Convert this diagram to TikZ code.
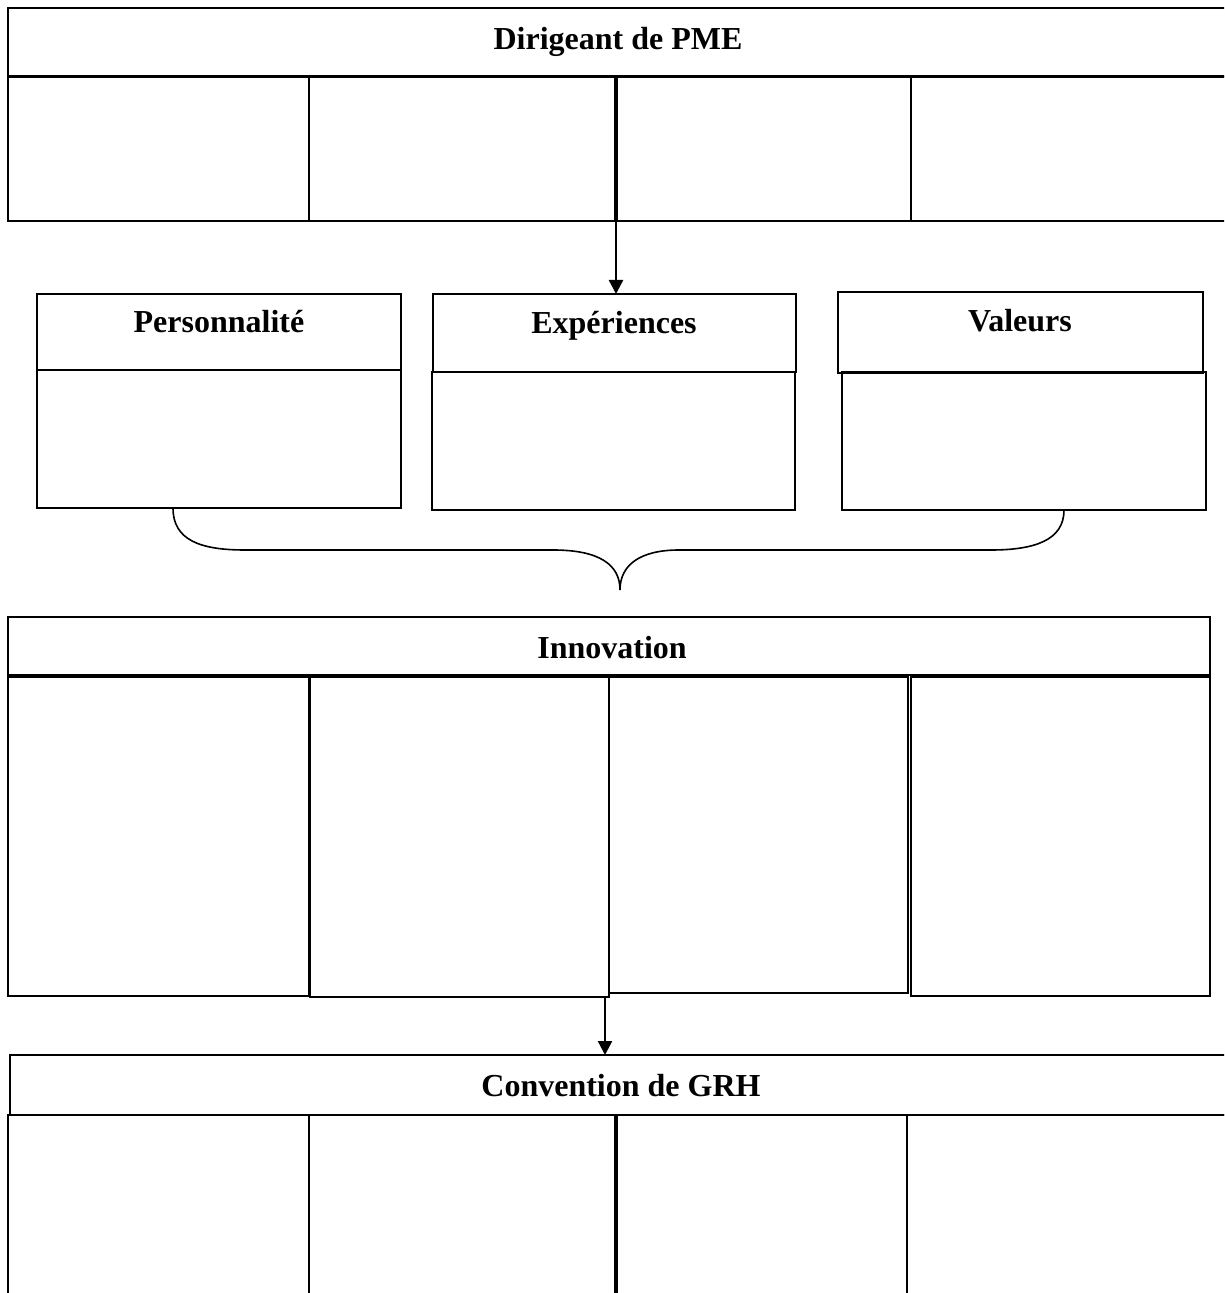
\documentclass[tikz,border=0pt]{standalone}
\usepackage{fontspec}
\setmainfont{Liberation Serif}
\usetikzlibrary{fit,arrows.meta}
\tikzset{
  box/.style={draw, line width=0.9pt, inner sep=0pt, outer sep=0pt},
  titlebox/.style={box, line width=1.2pt},
  lbl/.style={font=\bfseries\fontsize{16}{19}\selectfont, anchor=base, inner sep=0pt},
  arr/.style={line width=1.2pt, -{Triangle[length=7pt,width=7pt]}},
  bracestyle/.style={line width=0.8pt},
}
\begin{document}
\begin{tikzpicture}[x=0.5pt,y=-0.5pt]
\clip (0,0) rectangle (1224,1293);
% ---- Dirigeant de PME
\node[titlebox, fit={(8,8) (1234,76)}] (dir) {};
\node[lbl] (dirT) at (618,50) {Dirigeant de PME};
\node[box, fit={(8,77) (309,221)}] (d1) {};
\node[box, fit={(309,77) (615,221)}] (d2) {};
\node[box, fit={(617,77) (911,221)}] (d3) {};
\node[box, fit={(911,77) (1234,221)}] (d4) {};
% ---- three boxes
\node[titlebox, fit={(37,294) (401,370)}] (persH) {};
\node[box, fit={(37,370) (401,508)}] (persB) {};
\node[lbl] (persT) at (219,333) {Personnalité};
\node[titlebox, fit={(433,294) (796,372)}] (expH) {};
\node[box, fit={(432,372) (795,510)}] (expB) {};
\node[lbl] (expT) at (614,334) {Expériences};
\node[titlebox, fit={(838,292) (1203,373)}] (valH) {};
\node[box, fit={(842,372) (1206,510)}] (valB) {};
\node[lbl] (valT) at (1020,332) {Valeurs};
% arrow 1
\draw[arr] (d2.south east) ++(1,0) coordinate (a1) -- (a1 |- expH.north);
% brace
\coordinate (bl) at (173,508);
\coordinate (br) at (1064,510);
\coordinate (btip) at (620,590);
\draw[bracestyle] (bl) .. controls (173,540) and (200,550) .. (245,550)
  -- (553,550) .. controls (600,550) and (620,565) .. (btip);
\draw[bracestyle] (br) .. controls (1064,540) and (1035,550) .. (991,550)
  -- (679,550) .. controls (640,550) and (620,565) .. (btip);
% ---- Innovation
\node[titlebox, fit={(8,617) (1210,675)}] (inn) {};
\node[lbl] (innT) at (612,658) {Innovation};
\node[box, fit={(8,677) (309,996)}] (i1) {};
\node[box, fit={(310,677) (609,997)}] (i2) {};
\node[box, fit={(609,677) (908,993)}] (i3) {};
\node[box, fit={(911,677) (1210,996)}] (i4) {};
% ---- Convention de GRH
\node[titlebox, fit={(10,1055) (1234,1115)}] (grh) {};
\node[lbl] (grhT) at (621,1096) {Convention de GRH};
\node[box, fit={(8,1115) (309,1300)}] (g1) {};
\node[box, fit={(309,1115) (615,1300)}] (g2) {};
\node[box, fit={(617,1115) (907,1300)}] (g3) {};
\node[box, fit={(907,1115) (1234,1300)}] (g4) {};
% arrow 2
\draw[arr] ([xshift=-2pt]i2.south east) coordinate (a2) -- (a2 |- grh.north);
\end{tikzpicture}
\end{document}
